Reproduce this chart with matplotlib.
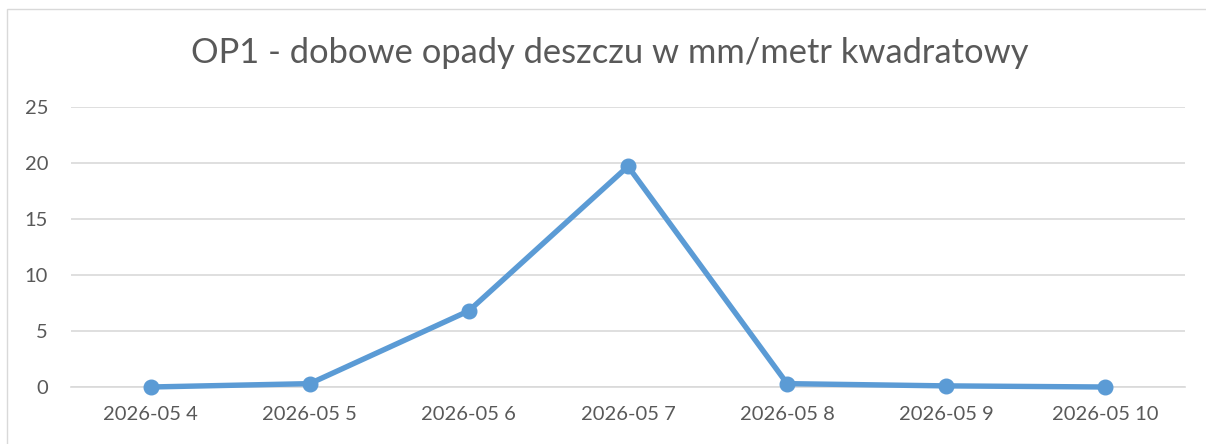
import matplotlib
matplotlib.use("Agg")
import matplotlib.pyplot as plt
from matplotlib.patches import Rectangle

categories = ["2026-05 4", "2026-05 5", "2026-05 6", "2026-05 7", "2026-05 8", "2026-05 9", "2026-05 10"]
rain_mm = [0.0, 0.3, 6.8, 19.7, 0.3, 0.1, 0.0]
y_ticks = [0, 5, 10, 15, 20, 25]
title = "OP1 - dobowe opady deszczu w mm/metr kwadratowy"

plt.rcParams['font.family'] = ['Lato', 'DejaVu Sans']
text_color = "#595959"
line_color = "#5B9BD5"
grid_color = "#D9D9D9"

W, H = 1206, 444
fig = plt.figure(figsize=(W / 100, H / 100), dpi=100)

# chart frame
fig.patches.append(Rectangle((7 / W, -0.1), 1.2, (H - 9) / H + 0.1, transform=fig.transFigure,
                             fill=False, edgecolor="#D9D9D9", linewidth=1.0))

ax = fig.add_axes([71 / W, 1 - 387 / H, (1185 - 71) / W, (387 - 107) / H])
x = list(range(len(categories)))
ax.plot(x, rain_mm, color=line_color, linewidth=3.9, marker="o", markersize=10.5,
        solid_capstyle="round", solid_joinstyle="round", zorder=3, clip_on=False)
ax.set_xlim(-0.5, len(categories) - 0.5)
ax.set_ylim(0, 25)
ax.set_yticks(y_ticks)
ax.set_xticks(x)
ax.set_xticklabels(categories)
ax.grid(axis="y", color=grid_color, linewidth=1.2)
ax.set_axisbelow(True)
for s in ["top", "right", "left"]:
    ax.spines[s].set_visible(False)
ax.spines["bottom"].set_color(grid_color)
ax.spines["bottom"].set_linewidth(1.2)
ax.tick_params(axis="both", length=0, colors=text_color, labelsize=14.5)
ax.tick_params(axis="y", pad=16.5)
ax.tick_params(axis="x", pad=14)

fig.text(610 / W, 1 - 53 / H, title, ha="center", va="center", fontsize=24.8, color=text_color)

fig.savefig("out.png", dpi=100)
